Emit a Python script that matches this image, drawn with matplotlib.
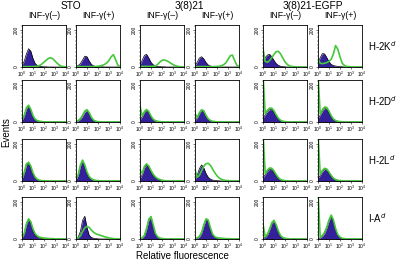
import numpy as np
import matplotlib
matplotlib.use('Agg')
import matplotlib.pyplot as plt
from matplotlib.ticker import MultipleLocator, LogLocator, NullFormatter

plt.rcParams['font.family'] = ['Liberation Sans', 'DejaVu Sans']

# fluorescence channels (log10), one count per channel
log_fl = [0.0, 0.2, 0.4, 0.6, 0.8, 1.0, 1.2, 1.4, 1.6, 1.8, 2.0,
          2.2, 2.4, 2.6, 2.8, 3.0, 3.2, 3.4, 3.6, 3.8, 4.0]

cells = ['STO', '3(8)21', '3(8)21-EGFP']
treatments = ['INF-γ(–)', 'INF-γ(+)']
markers = ['H-2K$^d$', 'H-2D$^d$', 'H-2L$^d$', 'I-A$^d$']

# control (filled) histograms, rows = markers, cols = cell/treatment
control = [
    [[10, 30, 70, 98, 85, 45, 18, 8, 4, 2, 1, 1, 0, 0, 0, 0, 0, 0, 0, 0, 0],
     [4, 8, 18, 38, 58, 55, 32, 14, 6, 3, 2, 1, 1, 0, 0, 0, 0, 0, 0, 0, 0],
     [12, 35, 62, 68, 48, 25, 12, 6, 3, 2, 1, 1, 0, 0, 0, 0, 0, 0, 0, 0, 0],
     [8, 25, 48, 55, 44, 24, 11, 5, 3, 2, 1, 0, 0, 0, 0, 0, 0, 0, 0, 0, 0],
     [30, 50, 64, 68, 55, 35, 18, 9, 4, 2, 1, 0, 0, 0, 0, 0, 0, 0, 0, 0, 0],
     [20, 50, 72, 70, 50, 28, 14, 8, 5, 3, 2, 1, 0, 0, 0, 0, 0, 0, 0, 0, 0]],
    [[8, 30, 70, 86, 60, 28, 12, 5, 3, 2, 1, 0, 0, 0, 0, 0, 0, 0, 0, 0, 0],
     [3, 6, 14, 30, 52, 63, 45, 20, 8, 3, 2, 1, 0, 0, 0, 0, 0, 0, 0, 0, 0],
     [10, 28, 52, 63, 50, 28, 12, 5, 3, 2, 1, 0, 0, 0, 0, 0, 0, 0, 0, 0, 0],
     [6, 20, 45, 62, 55, 32, 14, 6, 3, 2, 1, 0, 0, 0, 0, 0, 0, 0, 0, 0, 0],
     [20, 38, 56, 66, 66, 52, 32, 16, 7, 3, 2, 1, 0, 0, 0, 0, 0, 0, 0, 0, 0],
     [18, 36, 58, 72, 70, 50, 28, 13, 6, 3, 2, 1, 0, 0, 0, 0, 0, 0, 0, 0, 0]],
    [[10, 40, 85, 94, 70, 36, 16, 7, 3, 2, 1, 0, 0, 0, 0, 0, 0, 0, 0, 0, 0],
     [6, 30, 80, 108, 78, 40, 18, 9, 5, 3, 2, 1, 0, 0, 0, 0, 0, 0, 0, 0, 0],
     [10, 34, 70, 86, 72, 48, 30, 18, 10, 6, 3, 2, 1, 0, 0, 0, 0, 0, 0, 0, 0],
     [8, 30, 66, 86, 70, 40, 20, 10, 5, 3, 2, 1, 0, 0, 0, 0, 0, 0, 0, 0, 0],
     [16, 34, 52, 62, 60, 46, 28, 14, 6, 3, 2, 1, 0, 0, 0, 0, 0, 0, 0, 0, 0],
     [14, 30, 50, 62, 58, 42, 24, 12, 6, 3, 2, 1, 0, 0, 0, 0, 0, 0, 0, 0, 0]],
    [[6, 26, 76, 104, 86, 46, 20, 9, 5, 3, 2, 1, 0, 0, 0, 0, 0, 0, 0, 0, 0],
     [3, 10, 40, 100, 122, 60, 20, 8, 4, 2, 1, 0, 0, 0, 0, 0, 0, 0, 0, 0, 0],
     [2, 5, 16, 50, 100, 117, 70, 26, 10, 4, 2, 1, 0, 0, 0, 0, 0, 0, 0, 0, 0],
     [2, 4, 10, 30, 70, 104, 96, 54, 22, 10, 6, 4, 3, 2, 2, 1, 1, 0, 0, 0, 0],
     [3, 8, 20, 48, 82, 94, 70, 36, 14, 6, 3, 1, 0, 0, 0, 0, 0, 0, 0, 0, 0],
     [2, 6, 14, 30, 58, 96, 124, 96, 50, 20, 8, 3, 1, 0, 0, 0, 0, 0, 0, 0, 0]],
]

# antibody (green line) histograms
stained = [
    [[2, 2, 2, 2, 2, 2, 3, 4, 8, 16, 26, 36, 46, 50, 44, 32, 20, 10, 4, 2, 1],
     [2, 2, 2, 2, 2, 2, 2, 2, 2, 3, 4, 6, 9, 14, 22, 36, 55, 66, 40, 10, 2],
     [3, 3, 3, 3, 3, 3, 4, 5, 14, 26, 36, 38, 34, 28, 20, 13, 7, 4, 2, 1, 1],
     [2, 2, 2, 2, 2, 2, 2, 2, 2, 2, 3, 4, 7, 12, 22, 40, 60, 64, 35, 10, 2],
     [100, 30, 25, 35, 50, 68, 82, 84, 70, 48, 28, 14, 6, 3, 2, 1, 1, 0, 0, 0, 0],
     [45, 20, 18, 20, 24, 30, 42, 70, 115, 95, 55, 20, 8, 3, 2, 1, 0, 0, 0, 0, 0]],
    [[12, 36, 76, 90, 68, 34, 15, 7, 4, 2, 1, 1, 0, 0, 0, 0, 0, 0, 0, 0, 0],
     [4, 8, 18, 36, 58, 66, 50, 25, 10, 4, 2, 1, 0, 0, 0, 0, 0, 0, 0, 0, 0],
     [86, 32, 56, 67, 56, 32, 15, 7, 4, 2, 1, 0, 0, 0, 0, 0, 0, 0, 0, 0, 0],
     [45, 24, 50, 66, 60, 36, 17, 8, 4, 2, 1, 0, 0, 0, 0, 0, 0, 0, 0, 0, 0],
     [260, 44, 62, 74, 74, 60, 38, 20, 9, 4, 2, 1, 0, 0, 0, 0, 0, 0, 0, 0, 0],
     [260, 42, 66, 80, 78, 58, 34, 16, 8, 4, 2, 1, 0, 0, 0, 0, 0, 0, 0, 0, 0]],
    [[14, 46, 92, 100, 80, 44, 20, 9, 4, 2, 1, 1, 0, 0, 0, 0, 0, 0, 0, 0, 0],
     [8, 34, 86, 112, 86, 48, 24, 12, 6, 3, 2, 1, 0, 0, 0, 0, 0, 0, 0, 0, 0],
     [60, 40, 78, 92, 80, 56, 36, 22, 13, 8, 4, 2, 1, 0, 0, 0, 0, 0, 0, 0, 0],
     [60, 20, 30, 55, 80, 92, 95, 84, 64, 44, 28, 16, 9, 5, 3, 2, 1, 0, 0, 0, 0],
     [260, 40, 58, 70, 68, 54, 34, 18, 8, 4, 2, 1, 0, 0, 0, 0, 0, 0, 0, 0, 0],
     [260, 36, 56, 68, 64, 48, 30, 15, 8, 4, 2, 1, 0, 0, 0, 0, 0, 0, 0, 0, 0]],
    [[8, 30, 82, 108, 92, 54, 28, 16, 10, 7, 5, 4, 3, 2, 2, 1, 1, 1, 0, 0, 0],
     [3, 6, 16, 40, 60, 68, 62, 48, 36, 28, 24, 20, 16, 12, 9, 6, 4, 2, 1, 0, 0],
     [3, 6, 20, 56, 106, 120, 76, 30, 12, 5, 3, 1, 0, 0, 0, 0, 0, 0, 0, 0, 0],
     [3, 6, 14, 36, 76, 108, 102, 60, 26, 12, 7, 5, 4, 3, 2, 2, 1, 1, 0, 0, 0],
     [80, 12, 26, 54, 88, 100, 76, 42, 18, 8, 4, 2, 1, 0, 0, 0, 0, 0, 0, 0, 0],
     [260, 10, 18, 36, 64, 102, 128, 102, 56, 24, 10, 4, 2, 0, 0, 0, 0, 0, 0, 0, 0]],
]

W, H = 402, 262
fig = plt.figure(figsize=(W / 100, H / 100), dpi=100)

col_left = [22, 76, 140, 195, 263, 318]
row_top = [25, 80, 139, 197]
pw, ph = 44, 42

fl = 10 ** np.array(log_fl)
navy = '#34209a'
green = '#44c83a'

for r in range(4):
    for c in range(6):
        ax = fig.add_axes([col_left[c] / W, 1 - (row_top[r] + ph) / H, pw / W, ph / H])
        b = np.array(control[r][c])
        g = np.array(stained[r][c])
        ax.fill_between(fl, b, color=navy, lw=0)
        ax.plot(fl, b, color='k', lw=0.5)
        ax.plot(fl, g, color=green, lw=1.2)
        ax.set_xscale('log')
        ax.set_xlim(1, 1e4)
        ax.set_ylim(0, 225)
        ax.set_yticks([0, 200])
        ax.set_yticklabels(['0', '200'], rotation=90, va='center')
        ax.yaxis.set_minor_locator(MultipleLocator(20))
        ax.xaxis.set_major_locator(LogLocator(base=10, numticks=6))
        ax.xaxis.set_minor_locator(LogLocator(base=10, subs=np.arange(2, 10), numticks=20))
        ax.xaxis.set_minor_formatter(NullFormatter())
        ax.tick_params(which='major', length=1.5, width=0.4, labelsize=3.5, pad=0.8)
        ax.tick_params(which='minor', length=0.8, width=0.3)
        for s in ax.spines.values():
            s.set_linewidth(0.6)

# column headers
for i, name in enumerate(cells):
    x = (col_left[2 * i] + col_left[2 * i + 1] + pw) / 2
    fig.text(x / W, 1 - 6 / H, name, ha='center', va='center', fontsize=7.3)
for c in range(6):
    fig.text((col_left[c] + pw / 2) / W, 1 - 16 / H, treatments[c % 2],
             ha='center', va='center', fontsize=6.3)

for r, m in enumerate(markers):
    fig.text(368 / W, 1 - (row_top[r] + ph / 2) / H, m, ha='left', va='center', fontsize=7)

fig.text(6 / W, 1 - 132 / H, 'Events', rotation=90, ha='center', va='center', fontsize=7)
fig.text(182 / W, 1 - 256 / H, 'Relative fluorescence', ha='center', va='center', fontsize=7)

fig.savefig('out.png', dpi=100)
